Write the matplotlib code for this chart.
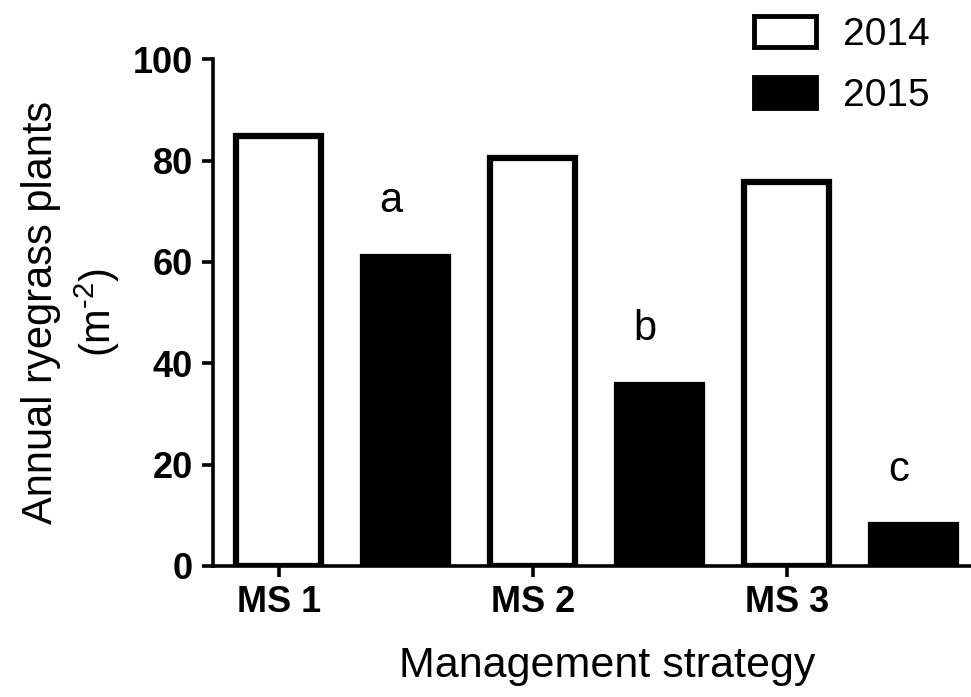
import matplotlib
matplotlib.use("Agg")
import matplotlib.pyplot as plt
from matplotlib.patches import Patch

plt.rcParams['font.family'] = ['Liberation Sans', 'DejaVu Sans']
plt.rcParams['mathtext.fontset'] = 'custom'
plt.rcParams['mathtext.rm'] = 'Liberation Sans'

estrategias = ["MS 1", "MS 2", "MS 3"]
plantas_2014 = [84.8, 80.6, 75.8]
plantas_2015 = [61.0, 35.7, 8.0]
letras = ["a", "b", "c"]

fig = plt.figure(figsize=(9.71, 6.97), dpi=100)
ax = fig.add_axes([0.219, 0.188, 0.781, 0.727])

lw = 4.5
ancho = 0.67
x14 = [2 * i for i in range(len(estrategias))]
x15 = [2 * i + 1 for i in range(len(estrategias))]

ax.bar(x14, plantas_2014, width=ancho, color="white", edgecolor="black", linewidth=lw)
ax.bar(x15, plantas_2015, width=ancho, color="black", edgecolor="black", linewidth=lw)

for xi, v, l in zip(x15, plantas_2015, letras):
    ax.text(xi - 0.12, v + 11, l, ha="center", va="center", fontsize=30)

ax.set_xlim(-0.52, 5.45)
ax.set_ylim(0, 100)
ax.set_yticks([0, 20, 40, 60, 80, 100])
ax.set_xticks(x14)
ax.set_xticklabels(estrategias)

for s in ["top", "right"]:
    ax.spines[s].set_visible(False)
for s in ["left", "bottom"]:
    ax.spines[s].set_linewidth(2.6)
ax.tick_params(width=2.6, length=8, labelsize=26, pad=6)
for t in ax.get_xticklabels() + ax.get_yticklabels():
    t.set_fontweight("bold")

ax.set_ylabel("Annual ryegrass plants\n(m$^{\\text{-}2}$)", fontsize=30, labelpad=8, linespacing=1.3)
ax.set_xlabel("Management strategy", fontsize=31, labelpad=22)
ax.xaxis.set_label_coords(0.52, -0.158)

handles = [Patch(facecolor="white", edgecolor="black", linewidth=3.5, label="2014"),
           Patch(facecolor="black", edgecolor="black", linewidth=3.5, label="2015")]
fig.legend(handles=handles, loc="upper left", bbox_to_anchor=(0.752, 1.01), frameon=False,
           fontsize=28, handlelength=1.6, handleheight=0.85, handletextpad=0.7, labelspacing=0.6,
           borderaxespad=0.2)

fig.savefig("out.png", dpi=100)
